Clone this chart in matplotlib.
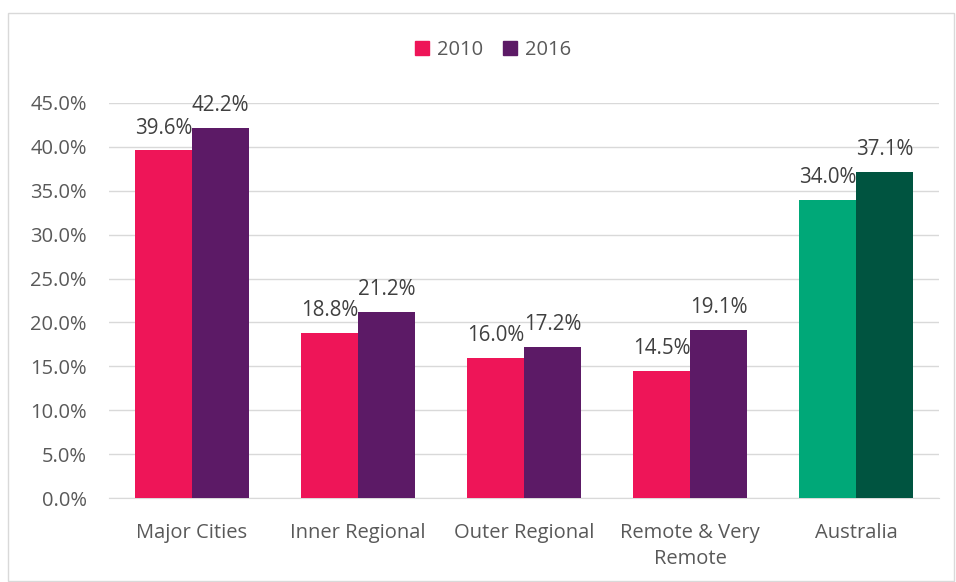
import numpy as np
import matplotlib.pyplot as plt
from matplotlib.patches import Rectangle, Patch

categories = ['Major Cities', 'Inner Regional', 'Outer Regional', 'Remote & Very\nRemote', 'Australia']
vals_2010 = [39.6, 18.8, 16.0, 14.5, 34.0]
vals_2016 = [42.2, 21.2, 17.2, 19.1, 37.1]
years = ['2010', '2016']

pink = '#EE1558'
purple = '#5C1A66'
green = '#00A878'
dkgreen = '#005440'
col10 = [pink, pink, pink, pink, green]
col16 = [purple, purple, purple, purple, dkgreen]

plt.rcParams['font.family'] = ['Open Sans', 'DejaVu Sans']

fig = plt.figure(figsize=(9.56, 5.82), dpi=100)
ax = fig.add_axes([109/956, 1-498/582, 830/956, 395/582])

# chart border
fig.patches.append(Rectangle((8/956, 0.002), 946/956, 1-13/582-0.002, transform=fig.transFigure,
                             fill=False, edgecolor='#D9D9D9', linewidth=1))

x = np.arange(len(categories))
w = 0.343
b1 = ax.bar(x - w/2, vals_2010, w, color=col10)
b2 = ax.bar(x + w/2, vals_2016, w, color=col16)

for bars, vals in ((b1, vals_2010), (b2, vals_2016)):
    for r, v in zip(bars, vals):
        ax.text(r.get_x() + r.get_width()/2, v + 1.35, '%.1f%%' % v, ha='center', va='bottom',
                fontsize=14.8, color='#404040')

ax.set_ylim(0, 45)
ax.set_xlim(-0.5, 4.5)
ax.set_yticks(np.arange(0, 46, 5))
ax.set_yticklabels(['%.1f%%' % t for t in np.arange(0, 46, 5)])
ax.set_xticks(x)
ax.set_xticklabels(categories, linespacing=1.4)
ax.tick_params(length=0, labelsize=14.5, labelcolor='#595959')
ax.tick_params(axis='y', pad=16)
ax.tick_params(axis='x', pad=18)
ax.grid(axis='y', color='#D9D9D9', linewidth=1)
ax.set_axisbelow(True)
for s in ['top', 'right', 'left']:
    ax.spines[s].set_visible(False)
ax.spines['bottom'].set_color('#D9D9D9')
ax.spines['bottom'].set_zorder(0.5)

handles = [Patch(color=pink), Patch(color=purple)]
fig.legend(handles, years, loc='center', bbox_to_anchor=(493/956, 1-50/582), ncol=2, frameon=False,
           fontsize=14.5, handlelength=0.7, handleheight=0.7, handletextpad=0.4, columnspacing=1.0,
           labelcolor='#595959')

fig.savefig('out.png', dpi=100)
